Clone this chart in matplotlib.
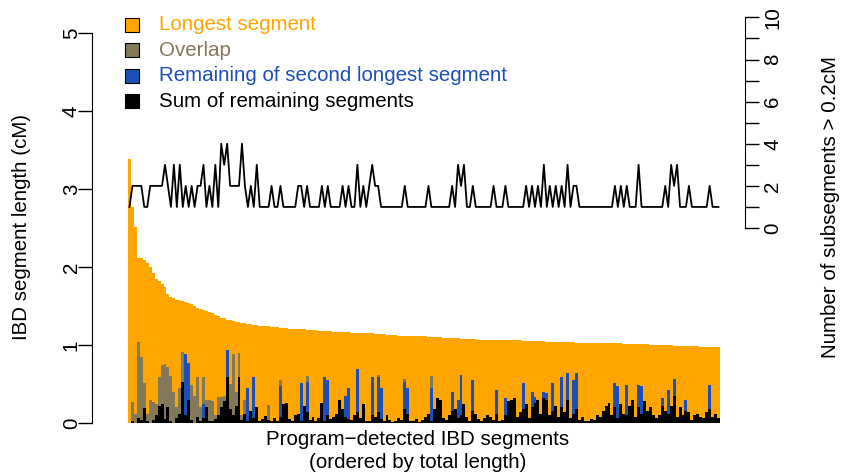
import numpy as np
import matplotlib
matplotlib.use("Agg")
import matplotlib.pyplot as plt
from matplotlib.patches import Rectangle

plt.rcParams['font.family'] = ['Liberation Sans', 'DejaVu Sans']

# total length of each detected IBD segment (cM), sorted decreasing
total_len = [
    3.38, 2.77, 2.51, 2.12, 2.11, 2.09, 2.05, 2.00, 1.92, 1.85,
    1.82, 1.78, 1.75, 1.65, 1.62, 1.60, 1.58, 1.58, 1.57, 1.55,
    1.54, 1.52, 1.50, 1.48, 1.46, 1.45, 1.43, 1.42, 1.41, 1.39,
    1.37, 1.35, 1.34, 1.32, 1.32, 1.31, 1.30, 1.29, 1.28, 1.28,
    1.27, 1.27, 1.26, 1.26, 1.25, 1.25, 1.24, 1.24, 1.23, 1.23,
    1.23, 1.22, 1.22, 1.22, 1.21, 1.21, 1.21, 1.20, 1.20, 1.20,
    1.19, 1.19, 1.19, 1.19, 1.18, 1.18, 1.18, 1.18, 1.18, 1.17,
    1.17, 1.17, 1.17, 1.17, 1.17, 1.16, 1.16, 1.16, 1.16, 1.15,
    1.15, 1.15, 1.15, 1.14, 1.14, 1.14, 1.14, 1.13, 1.13, 1.13,
    1.13, 1.12, 1.12, 1.12, 1.12, 1.12, 1.11, 1.11, 1.11, 1.11,
    1.11, 1.10, 1.10, 1.10, 1.10, 1.10, 1.09, 1.09, 1.09, 1.09,
    1.09, 1.09, 1.08, 1.08, 1.08, 1.08, 1.08, 1.08, 1.07, 1.07,
    1.07, 1.07, 1.07, 1.07, 1.07, 1.07, 1.06, 1.06, 1.06, 1.06,
    1.06, 1.06, 1.06, 1.05, 1.05, 1.05, 1.05, 1.05, 1.05, 1.05,
    1.05, 1.04, 1.04, 1.04, 1.04, 1.04, 1.04, 1.04, 1.04, 1.04,
    1.04, 1.03, 1.03, 1.03, 1.03, 1.03, 1.03, 1.03, 1.02, 1.02,
    1.02, 1.02, 1.02, 1.02, 1.02, 1.02, 1.02, 1.01, 1.01, 1.01,
    1.01, 1.01, 1.01, 1.01, 1.01, 1.01, 1.00, 1.00, 1.00, 1.00,
    1.00, 1.00, 1.00, 1.00, 0.99, 0.99, 0.99, 0.99, 0.99, 0.99,
    0.99, 0.99, 0.99, 0.98, 0.98, 0.98, 0.98, 0.98, 0.98, 0.98,
]

# number of subsegments > 0.2 cM for each segment
n_sub = [
    1, 2, 2, 2, 2, 1, 1, 2, 2, 2,
    2, 2, 3, 2, 1, 3, 1, 3, 1, 2,
    1, 2, 1, 2, 2, 3, 1, 2, 1, 3,
    1, 4, 3, 4, 2, 2, 2, 2, 4, 2,
    1, 2, 1, 3, 1, 1, 1, 1, 2, 1,
    1, 2, 1, 1, 1, 1, 1, 2, 2, 1,
    2, 1, 1, 1, 1, 2, 1, 2, 1, 1,
    1, 1, 2, 1, 2, 1, 1, 3, 1, 2,
    1, 2, 3, 2, 2, 1, 1, 1, 1, 1,
    1, 1, 1, 2, 1, 1, 1, 1, 1, 1,
    1, 2, 1, 1, 1, 1, 1, 1, 1, 2,
    1, 3, 2, 3, 1, 1, 2, 1, 1, 1,
    1, 1, 1, 2, 1, 1, 1, 2, 1, 1,
    1, 1, 1, 1, 2, 1, 2, 1, 2, 1,
    3, 1, 2, 1, 2, 1, 2, 1, 3, 1,
    2, 2, 1, 1, 1, 1, 1, 1, 1, 1,
    1, 1, 1, 1, 2, 1, 2, 1, 2, 1,
    1, 1, 3, 1, 1, 1, 1, 1, 1, 1,
    1, 2, 1, 3, 2, 3, 1, 1, 1, 2,
    1, 1, 1, 1, 1, 1, 2, 1, 1, 1,
]

# sum of remaining segments (cM)
rem_len = [
    0.00, 0.03, 0.00, 0.06, 0.04, 0.19, 0.02, 0.00, 0.04, 0.10,
    0.22, 0.25, 0.05, 0.21, 0.03, 0.00, 0.06, 0.12, 0.53, 0.10,
    0.29, 0.04, 0.00, 0.08, 0.02, 0.06, 0.21, 0.03, 0.02, 0.05,
    0.10, 0.20, 0.28, 0.59, 0.18, 0.10, 0.22, 0.59, 0.04, 0.12,
    0.03, 0.15, 0.07, 0.20, 0.02, 0.05, 0.09, 0.04, 0.03, 0.06,
    0.02, 0.08, 0.24, 0.26, 0.05, 0.02, 0.10, 0.12, 0.03, 0.22,
    0.14, 0.04, 0.08, 0.03, 0.06, 0.26, 0.02, 0.10, 0.05, 0.08,
    0.12, 0.30, 0.18, 0.08, 0.05, 0.04, 0.10, 0.14, 0.06, 0.24,
    0.02, 0.03, 0.10, 0.08, 0.14, 0.05, 0.02, 0.10, 0.04, 0.01,
    0.03, 0.06, 0.04, 0.18, 0.12, 0.02, 0.03, 0.05, 0.01, 0.04,
    0.08, 0.12, 0.02, 0.18, 0.32, 0.30, 0.06, 0.04, 0.10, 0.15,
    0.18, 0.06, 0.10, 0.25, 0.08, 0.03, 0.16, 0.12, 0.05, 0.02,
    0.06, 0.10, 0.08, 0.04, 0.12, 0.02, 0.04, 0.10, 0.28, 0.30,
    0.32, 0.08, 0.14, 0.18, 0.24, 0.06, 0.20, 0.26, 0.30, 0.12,
    0.32, 0.30, 0.10, 0.16, 0.22, 0.08, 0.20, 0.14, 0.30, 0.06,
    0.12, 0.18, 0.04, 0.08, 0.03, 0.02, 0.05, 0.04, 0.10, 0.08,
    0.16, 0.22, 0.26, 0.10, 0.20, 0.06, 0.24, 0.12, 0.10, 0.22,
    0.30, 0.08, 0.20, 0.12, 0.28, 0.16, 0.20, 0.10, 0.06, 0.10,
    0.22, 0.16, 0.12, 0.22, 0.34, 0.08, 0.20, 0.10, 0.16, 0.14,
    0.04, 0.10, 0.12, 0.08, 0.06, 0.14, 0.18, 0.08, 0.12, 0.06,
]

# bar tops of "remaining + second longest" (only non-empty ones)
second_idx = [19, 20, 25, 33, 40, 42, 51, 58, 60, 66, 67, 73, 74, 77, 82,
              84, 85, 93, 94, 102, 109, 111, 112, 116, 124, 127, 133, 136,
              137, 140, 141, 143, 146, 148, 150, 151, 164, 165, 168, 172,
              173, 180, 182, 184, 188, 196]
second_top = [0.89, 0.77, 0.25, 0.94, 0.45, 0.59, 0.47, 0.51, 0.53, 0.59,
              0.55, 0.34, 0.45, 0.69, 0.59, 0.59, 0.45, 0.52, 0.45, 0.45,
              0.40, 0.30, 0.61, 0.55, 0.42, 0.32, 0.51, 0.40, 0.33, 0.40,
              0.38, 0.51, 0.59, 0.64, 0.55, 0.64, 0.51, 0.47, 0.49, 0.49,
              0.47, 0.32, 0.42, 0.57, 0.30, 0.49]

# bar tops including the overlap part
overlap_idx = [1, 2, 3, 4, 5, 6, 7, 8, 9, 10, 11, 12, 13, 14, 15, 16, 17, 18,
               21, 22, 23, 24, 25, 26, 27, 28, 29, 30, 31, 32, 34, 35, 36, 37,
               38, 39, 47, 51, 60, 84, 93, 102]
overlap_top = [0.27, 0.12, 1.04, 0.85, 0.51, 0.12, 0.30, 0.27, 0.25, 0.59,
               0.75, 0.76, 0.72, 0.60, 0.40, 0.20, 0.45, 0.91, 0.49, 0.34,
               0.59, 0.20, 0.59, 0.30, 0.30, 0.28, 0.10, 0.33, 0.33, 0.35,
               0.50, 0.89, 0.40, 0.90, 0.10, 0.30, 0.23, 0.55, 0.60, 0.62,
               0.56, 0.60]

legend_labels = ["Longest segment", "Overlap",
                 "Remaining of second longest segment",
                 "Sum of remaining segments"]
col_long = "#FFA500"
col_over = "#837858"
col_second = "#1C4FB8"
col_rem = "#000000"
legend_cols = [col_long, col_over, col_second, col_rem]

n = len(total_len)
x = np.arange(n)
second = np.zeros(n)
second[second_idx] = second_top
overlap = np.zeros(n)
overlap[overlap_idx] = overlap_top

W, H = 844, 473
FS = 14.8
fig = plt.figure(figsize=(W / 100, H / 100), dpi=100)
ax = fig.add_axes([92 / W, 1 - 438.6 / H, (745 - 92) / W, (438.6 - 17.4) / H])

bw = 1.0
pitch = (720 - 128) / (n - 1 + bw)
ax.set_xlim(-bw / 2 - (128 - 92) / pitch, n - 1 + bw / 2 + (745 - 720) / pitch)
ax.set_ylim(-0.2, 5.2)

# draw from tallest to shortest so each layer sits over the previous one
ax.bar(x, total_len, width=bw, color=col_long, linewidth=0)
ax.bar(x, overlap, width=bw, color=col_over, linewidth=0)
ax.bar(x, second, width=bw, color=col_second, linewidth=0)
ax.bar(x, rem_len, width=bw, color=col_rem, linewidth=0)

for s in ["top", "right", "bottom"]:
    ax.spines[s].set_visible(False)
ax.spines["left"].set_bounds(0, 5)
ax.set_yticks(range(6))
ax.set_yticklabels([str(v) for v in range(6)], rotation=90, va="center")
ax.set_xticks([])
ax.tick_params(axis="y", length=10, width=1, pad=-2, labelsize=FS)

ax2 = ax.twinx()
ax2.set_ylim(-10, 10)
ax2.plot(x, n_sub, color="black", lw=1.3)
for s in ["top", "left", "bottom"]:
    ax2.spines[s].set_visible(False)
ax2.spines["right"].set_bounds(0, 10)
ax2.set_yticks(range(11))
ax2.set_yticklabels([str(v) if v % 2 == 0 else "" for v in range(11)],
                    rotation=90, va="center")
ax2.tick_params(axis="y", length=10, width=1, pad=3, labelsize=FS)

# legend: filled squares with black border, coloured text
for i, (lab, c) in enumerate(zip(legend_labels, legend_cols)):
    yc = 25 + i * 25.4
    fig.patches.append(Rectangle((125 / W, 1 - (yc + 7) / H), 14 / W, 14 / H,
                                 transform=fig.transFigure, facecolor=c,
                                 edgecolor="black", linewidth=0.8))
    fig.text(159 / W, 1 - yc / H, lab, color=c, ha="left", va="center",
             fontsize=FS)

fig.text(22 / W, 1 - 227 / H, "IBD segment length (cM)", rotation=90,
         ha="center", va="center", fontsize=FS)
fig.text(830 / W, 1 - 207 / H, "Number of subsegments > 0.2cM", rotation=90,
         ha="center", va="center", fontsize=FS)
fig.text(418 / W, 1 - 439 / H, "Program\u2212detected IBD segments",
         ha="center", va="center", fontsize=FS)
fig.text(418 / W, 1 - 462 / H, "(ordered by total length)",
         ha="center", va="center", fontsize=FS)

fig.savefig("out.png", dpi=100)
